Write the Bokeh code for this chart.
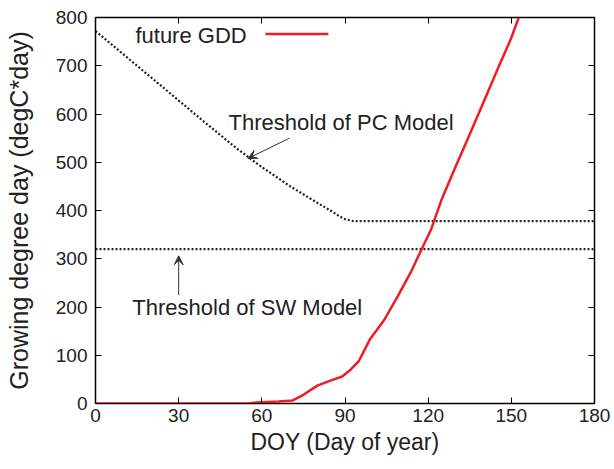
from bokeh.plotting import figure
from bokeh.models import LinearAxis, FixedTicker, Arrow, VeeHead
from bokeh.core.properties import value
from bokeh.embed import file_html
from bokeh.resources import INLINE

# --- data ---
gdd_doy = [0, 20, 40, 55, 58, 62, 66, 71, 75, 80, 85, 89, 92, 95, 99, 104, 109, 114, 117, 121, 125, 130, 135, 140, 145, 150, 153]
gdd_val = [0, 0, 0, 0, 2, 3, 4, 6, 18, 37, 48, 56, 70, 88, 133, 172, 222, 275, 312, 360, 425, 492, 558, 625, 692, 758, 805]

pc_doy = [0, 10, 20, 30, 40, 50, 55, 60, 70, 80, 85, 88, 90, 93, 180]
pc_val = [772, 724, 676, 628, 580, 533, 511, 490, 451, 416, 399, 388, 382, 378, 378]

sw_doy = [0, 180]
sw_val = [320, 320]

x_ticks = [0, 30, 60, 90, 120, 150, 180]
y_ticks = [0, 100, 200, 300, 400, 500, 600, 700, 800]

FONT = "Liberation Sans"
TXT = "#222222"

p = figure(width=614, height=469, x_range=(0, 180), y_range=(0, 800),
           output_backend="svg", toolbar_location=None,
           min_border_left=95, min_border_right=20, min_border_top=17, min_border_bottom=66)
p.grid.visible = False
p.outline_line_color = "black"
p.outline_line_width = 1.5

for ax in (p.xaxis[0], p.yaxis[0]):
    ax.major_tick_in = 6
    ax.major_tick_out = 0
    ax.minor_tick_in = 0
    ax.minor_tick_out = 0
    ax.axis_line_color = "black"
    ax.major_label_text_font = FONT
    ax.major_label_text_font_size = "19px"
    ax.major_label_text_color = TXT
    ax.axis_label_text_font = FONT
    ax.axis_label_text_font_style = "normal"
    ax.axis_label_text_color = TXT

p.xaxis.ticker = FixedTicker(ticks=x_ticks)
p.yaxis.ticker = FixedTicker(ticks=y_ticks)
p.xaxis.axis_label = "DOY (Day of year)"
p.yaxis.axis_label = "Growing degree day (degC*day)"
p.xaxis.axis_label_text_font_size = "23px"
p.yaxis.axis_label_text_font_size = "25px"
p.xaxis.major_label_standoff = 5
p.yaxis.major_label_standoff = 8
p.xaxis.axis_label_standoff = 4
p.yaxis.axis_label_standoff = 20

top = LinearAxis(ticker=FixedTicker(ticks=x_ticks), major_tick_in=6, major_tick_out=0,
                 minor_tick_in=0, minor_tick_out=0,
                 major_label_overrides={t: "" for t in x_ticks})
right = LinearAxis(ticker=FixedTicker(ticks=y_ticks), major_tick_in=6, major_tick_out=0,
                   minor_tick_in=0, minor_tick_out=0,
                   major_label_overrides={t: "" for t in y_ticks})
p.add_layout(top, "above")
p.add_layout(right, "right")

p.line(pc_doy, pc_val, line_color=TXT, line_width=2.2, line_dash="2 2")
p.line(sw_doy, sw_val, line_color=TXT, line_width=2.2, line_dash="2 2")
p.line(gdd_doy, gdd_val, line_color="#ee1c24", line_width=2.5)

# key (gnuplot style: label then sample line)
p.text(x=[14.4], y=[763], text=["future GDD"], text_font=value(FONT), text_font_size="22px",
       text_color=TXT, text_baseline="middle", text_align="left")
p.line([61.3, 84], [766, 766], line_color="#ee1c24", line_width=2.5)

p.text(x=[48], y=[582], text=["Threshold of PC Model"], text_font=value(FONT), text_font_size="22px",
       text_color=TXT, text_baseline="middle", text_align="left")
p.text(x=[13.3], y=[199], text=["Threshold of SW Model"], text_font=value(FONT), text_font_size="22px",
       text_color=TXT, text_baseline="middle", text_align="left")

p.add_layout(Arrow(end=VeeHead(size=9, line_color="#333333", fill_color="#333333", line_width=1),
                   x_start=70, y_start=550, x_end=55, y_end=508, line_color="#333333", line_width=1))
p.add_layout(Arrow(end=VeeHead(size=9, line_color="#333333", fill_color="#333333", line_width=1),
                   x_start=30, y_start=225, x_end=30, y_end=306, line_color="#333333", line_width=1))

open("out.html", "w").write(file_html(p, INLINE))
